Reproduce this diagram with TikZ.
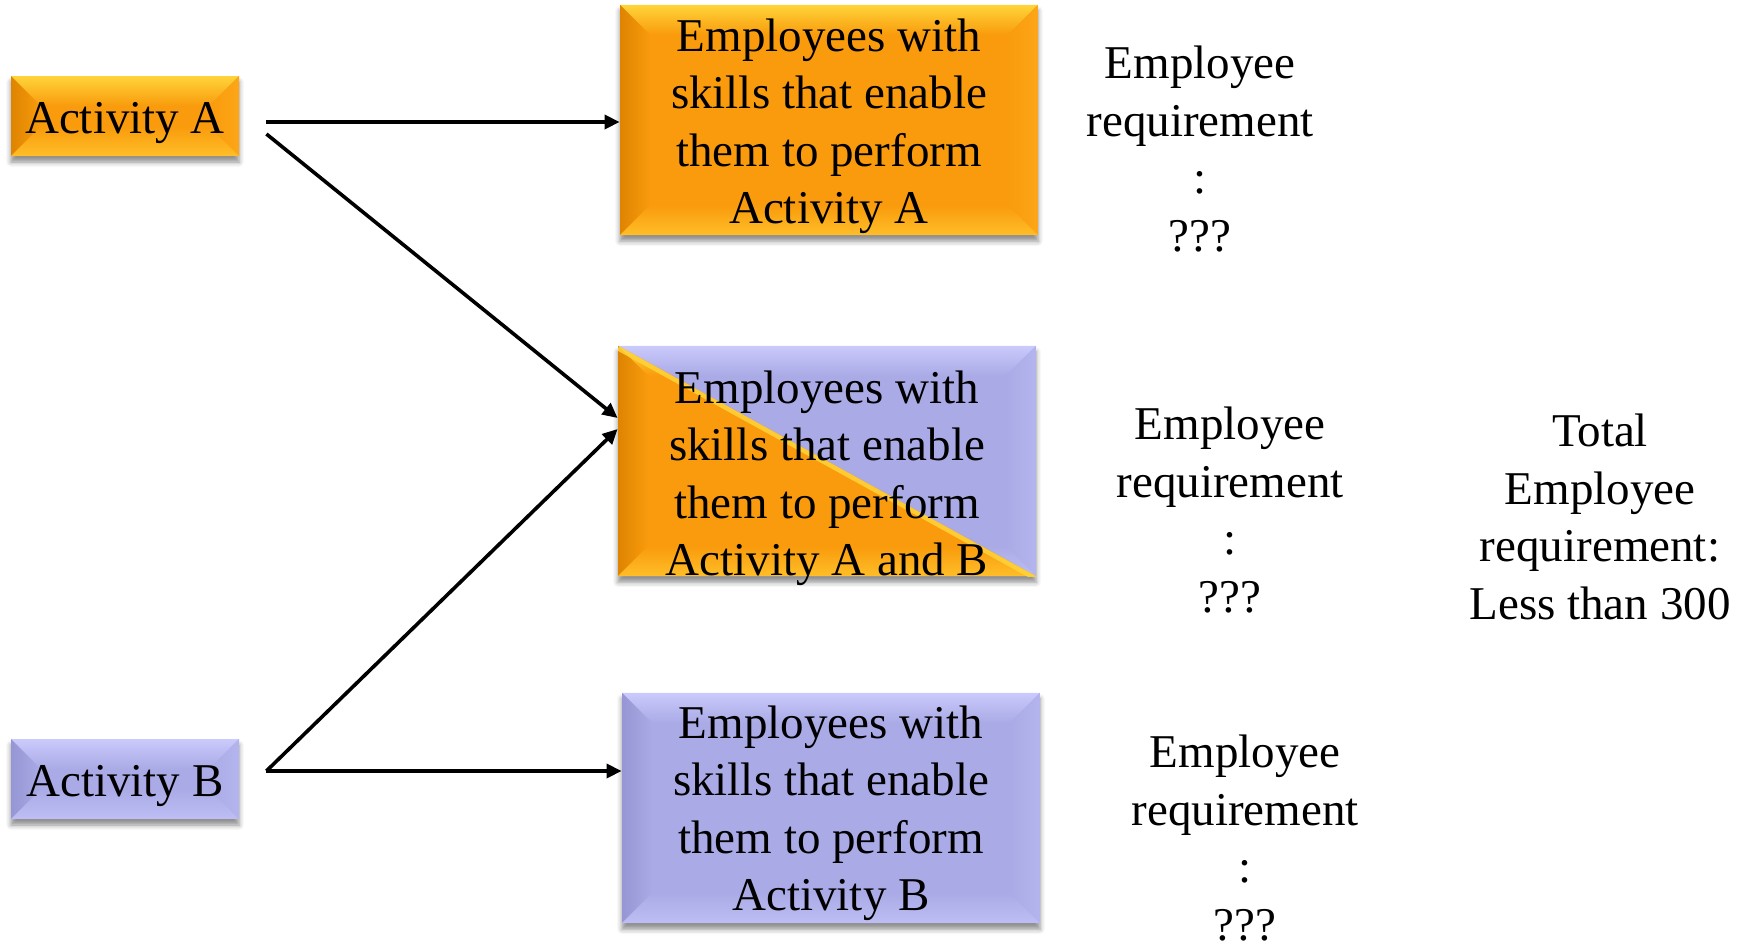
\documentclass[tikz,border=0pt]{standalone}
\usepackage{fontspec}
\setmainfont{Liberation Serif}
\usetikzlibrary{arrows.meta,shadows.blur}

\definecolor{orFace}{RGB}{249,155,12}
\definecolor{orTop}{RGB}{255,212,58}
\definecolor{orLeft}{RGB}{222,132,2}
\definecolor{orRight}{RGB}{252,166,24}
\definecolor{orBottom}{RGB}{255,190,40}
\definecolor{puFace}{RGB}{170,170,230}
\definecolor{puTop}{RGB}{202,202,252}
\definecolor{puLeft}{RGB}{150,150,212}
\definecolor{puRight}{RGB}{180,180,238}
\definecolor{puBottom}{RGB}{190,190,245}

% bevel width
\newlength\bw
\setlength\bw{15pt}

% faces of a bevelled box: #1 face, #2 top, #3 left, #4 right, #5 bottom
\newcommand\bevelfaces[5]{%
  \coordinate (pNW) at (path picture bounding box.north west);
  \coordinate (pNE) at (path picture bounding box.north east);
  \coordinate (pSW) at (path picture bounding box.south west);
  \coordinate (pSE) at (path picture bounding box.south east);
  \fill[#1] (pSW) rectangle (pNE);
  \shade[top color=#2, bottom color=#1]
    (pNW) -- (pNE) -- ([shift={(-\bw,-\bw)}]pNE) -- ([shift={(\bw,-\bw)}]pNW) -- cycle;
  \shade[left color=#3, right color=#1]
    (pNW) -- ([shift={(\bw,-\bw)}]pNW) -- ([shift={(\bw,\bw)}]pSW) -- (pSW) -- cycle;
  \shade[left color=#1, right color=#4]
    (pNE) -- ([shift={(-\bw,-\bw)}]pNE) -- ([shift={(-\bw,\bw)}]pSE) -- (pSE) -- cycle;
  \shade[top color=#1, bottom color=#5]
    (pSW) -- ([shift={(\bw,\bw)}]pSW) -- ([shift={(-\bw,\bw)}]pSE) -- (pSE) -- cycle;
}

% centred lines of text, drawn #1 lower than the box they occupy
\newcommand\lowered[2]{\raisebox{-#1}[\height][\depth]{\begin{tabular}{@{}c@{}}#2\end{tabular}}}

\tikzset{
  txt/.style={font=\fontsize{23.5}{28.8}\selectfont, align=center, inner sep=0pt},
  boxbase/.style={txt, blur shadow={shadow xshift=0pt, shadow yshift=-3pt,
      shadow blur radius=2.5pt, shadow opacity=45}},
  orbox/.style={boxbase, path picture={\bevelfaces{orFace}{orTop}{orLeft}{orRight}{orBottom}}},
  pubox/.style={boxbase, path picture={\bevelfaces{puFace}{puTop}{puLeft}{puRight}{puBottom}}},
  mixbox/.style={boxbase, path picture={%
      \bevelfaces{puFace}{puTop}{puLeft}{puRight}{puBottom}%
      \begin{scope}
        \clip (pNW) -- (pSE) -- (pSW) -- cycle;
        \bevelfaces{orFace}{orTop}{orLeft}{orRight}{orBottom}%
      \end{scope}
      \draw[orTop, line width=2.2pt, opacity=0.85]
        ([shift={(0pt,-1.3pt)}]pNW) -- ([shift={(0pt,-1.3pt)}]pSE);
    }},
  small/.style={minimum width=114pt, minimum height=40pt},
  big/.style={minimum width=209pt, minimum height=113pt},
  arr/.style={line width=1.8pt, -{Triangle[length=7.5pt,width=7pt]}},
}

\begin{document}
\begin{tikzpicture}[x=0.5pt, y=-0.5pt]
  \useasboundingbox (0,0) rectangle (1746,948);

  % activities
  \node[orbox, small] (actA) at (125,116) {\lowered{3pt}{Activity A}};
  \node[pubox, small] (actB) at (125,779) {\lowered{3pt}{Activity B}};

  % employee groups
  \node[orbox, big] (boxA) at (829,120)
    {\lowered{3pt}{Employees with\\skills that enable\\them to perform\\Activity A}};
  \node[mixbox, big] (boxAB) at (827,461)
    {\lowered{8.5pt}{Employees with\\skills that enable\\them to perform\\Activity A and B}};
  \node[pubox, big] (boxB) at (831,808)
    {\lowered{2.5pt}{Employees with\\skills that enable\\them to perform\\Activity B}};

  % requirements
  \node[txt] (reqA) at (1200,149) {Employee\\requirement\\:\\???};
  \node[txt] (reqAB) at (1230,510) {Employee\\requirement\\:\\???};
  \node[txt] (reqB) at (1245,838) {Employee\\requirement\\:\\???};
  \node[txt] (total) at (1600,517) {Total\\Employee\\requirement:\\Less than 300};

  % connector start points beside the activity boxes
  \coordinate (aR) at ([xshift=13.5pt,yshift=-3pt]actA.east);
  \coordinate (aD) at ([xshift=13.5pt,yshift=-9pt]actA.east);
  \coordinate (bR) at ([xshift=13.5pt,yshift=4pt]actB.east);

  \draw[arr] (aR) -- (aR -| boxA.west);
  \draw[arr] (aD) -- ([yshift=21.5pt]boxAB.west);
  \draw[arr] (bR) -- ([yshift=16pt]boxAB.west);
  \draw[arr] (bR) -- (bR -| boxB.west);
\end{tikzpicture}
\end{document}
